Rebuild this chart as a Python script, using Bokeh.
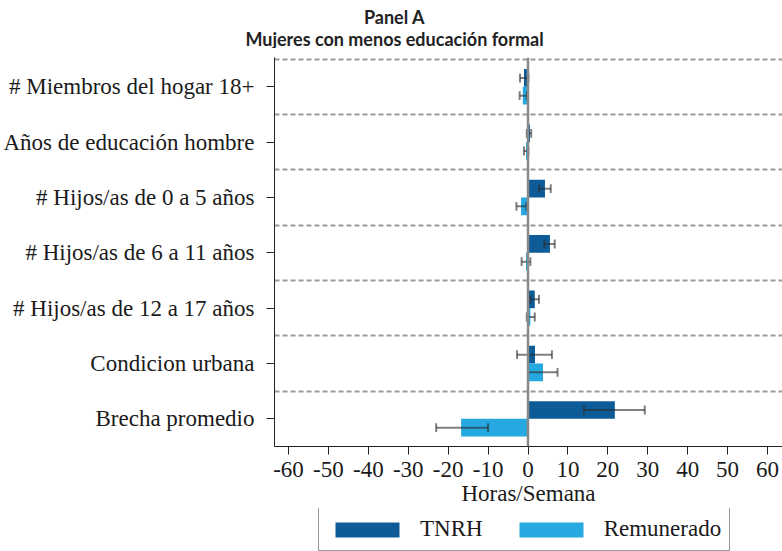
from bokeh.plotting import figure
from bokeh.layouts import column
from bokeh.models import FixedTicker, Span, Legend, LegendItem, ColumnDataSource, Range1d, Label
from bokeh.embed import file_html
from bokeh.resources import INLINE

categories = ["# Miembros del hogar 18+", "Años de educación hombre", "# Hijos/as de 0 a 5 años",
              "# Hijos/as de 6 a 11 años", "# Hijos/as de 12 a 17 años", "Condicion urbana",
              "Brecha promedio"]
tnrh = [-1.0, 0.5, 4.25, 5.5, 1.7, 1.75, 21.75]
tnrh_lo = [-2.0, -0.3, 2.75, 4.1, 0.6, -2.75, 14.0]
tnrh_hi = [0.1, 0.8, 5.7, 6.7, 2.75, 6.0, 29.25]
rem = [-1.3, -0.5, -1.75, -0.5, 0.6, 3.75, -16.75]
rem_lo = [-2.1, -1.0, -2.9, -1.6, -0.3, 0.0, -23.0]
rem_hi = [-0.3, 0.1, -0.4, 0.6, 1.7, 7.4, -10.0]
x_ticks = [-60, -50, -40, -30, -20, -10, 0, 10, 20, 30, 40, 50, 60]
series_names = ["TNRH", "Remunerado"]
title_lines = ["Panel A", "Mujeres con menos educación formal"]
x_label = "Horas/Semana"

C_TNRH = "#0E5C97"
C_REM = "#25A9E0"
SERIF = "Liberation Serif"
TXT = "#1a1a1a"
FS = "23px"

W = 782
H_TITLE, H_MAIN, H_LEG = 48, 460, 43

n = len(categories)
ypos = [n - 0.5 - i for i in range(n)]
off = 0.16
bar_h = 0.32
cap = 0.08

LEFT, TOP, BOTTOM = 273, 9, 53
X0, X1 = -63.5, 63.75

def bare(fig):
    fig.axis.visible = False
    fig.grid.visible = False
    fig.outline_line_color = None

# ---------- title figure (its own full-width frame) ----------
pt = figure(width=W, height=H_TITLE, x_range=Range1d(0, W), y_range=Range1d(0, H_TITLE),
            output_backend="svg", toolbar_location=None, frame_align=False,
            min_border_left=0, min_border_right=0, min_border_top=0, min_border_bottom=0)
bare(pt)
for txt, yy in zip(title_lines, [H_TITLE - 16, H_TITLE - 38]):
    pt.add_layout(Label(x=394, y=yy, text=txt, text_align="center", text_baseline="middle",
                        text_font="Lato", text_font_style="bold", text_font_size="18px",
                        text_color="#222222"))

# ---------- main figure ----------
p = figure(width=W, height=H_MAIN, x_range=Range1d(X0, X1), y_range=Range1d(0, n + 0.03),
           output_backend="svg", toolbar_location=None,
           min_border_left=LEFT, min_border_right=0, min_border_top=TOP, min_border_bottom=BOTTOM)
p.outline_line_color = None

src_t = ColumnDataSource(dict(y=[v + off for v in ypos], v=tnrh, lo=tnrh_lo, hi=tnrh_hi,
                              yl=[v + off - cap for v in ypos], yh=[v + off + cap for v in ypos]))
src_r = ColumnDataSource(dict(y=[v - off for v in ypos], v=rem, lo=rem_lo, hi=rem_hi,
                              yl=[v - off - cap for v in ypos], yh=[v - off + cap for v in ypos]))

p.hbar(y="y", left=0, right="v", height=bar_h, source=src_t, fill_color=C_TNRH, line_color=None)
p.hbar(y="y", left=0, right="v", height=bar_h, source=src_r, fill_color=C_REM, line_color=None)

for s in (src_t, src_r):
    kw = dict(source=s, line_color="#2b2b2b", line_width=2, line_alpha=0.6)
    p.segment(x0="lo", y0="y", x1="hi", y1="y", **kw)
    p.segment(x0="lo", y0="yl", x1="lo", y1="yh", **kw)
    p.segment(x0="hi", y0="yl", x1="hi", y1="yh", **kw)

p.add_layout(Span(location=0, dimension="height", line_color="#8a8a8a", line_width=2.5))

p.xgrid.visible = False
p.ygrid.ticker = FixedTicker(ticks=list(range(1, n + 1)))
p.ygrid.grid_line_color = "#999999"
p.ygrid.grid_line_dash = "5 3"
p.ygrid.grid_line_width = 2

xa = p.xaxis[0]
xa.ticker = FixedTicker(ticks=x_ticks)
xa.major_label_overrides = {t: str(t) for t in x_ticks}
xa.major_tick_out = 8
xa.major_tick_in = 0
xa.minor_tick_line_color = None
xa.axis_line_color = "#222222"
xa.major_tick_line_color = "#222222"
xa.major_label_text_font = SERIF
xa.major_label_text_font_size = FS
xa.major_label_text_color = TXT
xa.major_label_standoff = 7
xa.axis_label = x_label
xa.axis_label_text_font = SERIF
xa.axis_label_text_font_size = FS
xa.axis_label_text_font_style = "normal"
xa.axis_label_text_color = TXT
xa.axis_label_standoff = 1

ya = p.yaxis[0]
ya.ticker = FixedTicker(ticks=ypos)
ya.major_label_overrides = {y: c for y, c in zip(ypos, categories)}
ya.major_tick_out = 8
ya.major_tick_in = 0
ya.minor_tick_line_color = None
ya.axis_line_color = "#222222"
ya.major_tick_line_color = "#222222"
ya.major_label_text_font = SERIF
ya.major_label_text_font_size = FS
ya.major_label_text_color = TXT
ya.major_label_standoff = 12

# ---------- legend figure ----------
pl = figure(width=W, height=H_LEG, x_range=Range1d(0, 1), y_range=Range1d(0, 1),
            output_backend="svg", toolbar_location=None,
            min_border_left=0, min_border_right=0, min_border_top=0, min_border_bottom=0)
bare(pl)
hidden = ColumnDataSource(dict(y=[-5.0], v=[1.0]))  # placeholder outside the view, only for legend swatches
lt = pl.hbar(y="y", right="v", height=0.3, source=hidden, fill_color=C_TNRH, line_color=None)
lr = pl.hbar(y="y", right="v", height=0.3, source=hidden, fill_color=C_REM, line_color=None)
legend = Legend(items=[LegendItem(label=series_names[0], renderers=[lt]),
                       LegendItem(label=series_names[1], renderers=[lr])],
                orientation="horizontal", location=(317 - LEFT, 0),
                glyph_width=80, glyph_height=19, label_text_font=SERIF, label_text_font_size=FS,
                label_text_color=TXT, label_standoff=13, spacing=28, padding=8, margin=0,
                border_line_color="#333333", border_line_width=1.2, label_height=19)
pl.add_layout(legend)

layout = column(pt, p, pl, spacing=0)
open("out.html", "w").write(file_html(layout, INLINE))
